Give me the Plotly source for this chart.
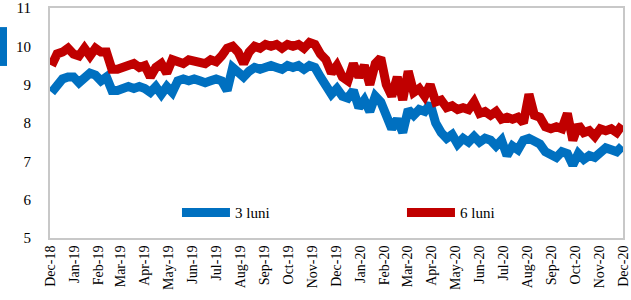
import pandas as pd
import plotly.graph_objects as go

# Weekly observations (Mondays), Dec 2018 - Nov 2020
week_start = "2018-12-03"
n_weeks = 105
dates = pd.date_range(week_start, periods=n_weeks, freq="7D")

series_names = ["3 luni", "6 luni"]

luni3 = [
    8.80, 9.00, 9.15, 9.20, 9.20, 9.05, 9.15, 9.30, 9.25, 9.10,
    9.20, 8.85, 8.85, 8.90, 8.95, 8.90, 8.95, 8.90, 8.80, 8.95,
    8.75, 8.95, 8.80, 9.10, 9.15, 9.10, 9.15, 9.10, 9.05, 9.10,
    9.15, 9.10, 8.85, 9.45, 9.35, 9.20, 9.35, 9.45, 9.40, 9.45,
    9.50, 9.45, 9.40, 9.50, 9.45, 9.50, 9.40, 9.50, 9.45, 9.20,
    8.95, 8.75, 8.90, 8.70, 8.65, 8.85, 8.40, 8.60, 8.30, 8.70,
    8.55, 8.20, 7.85, 8.10, 7.75, 8.35, 8.20, 8.35, 8.30, 8.50,
    8.00, 7.75, 7.60, 7.70, 7.45, 7.60, 7.50, 7.65, 7.50, 7.60,
    7.55, 7.40, 7.55, 7.15, 7.40, 7.30, 7.55, 7.60, 7.50, 7.45,
    7.25, 7.20, 7.10, 7.25, 7.20, 6.90, 7.20, 7.05, 7.15, 7.10,
    7.20, 7.35, 7.30, 7.25, 7.40,
]

luni6 = [
    9.50, 9.80, 9.85, 9.95, 9.80, 9.75, 9.95, 9.75, 9.95, 9.85,
    9.85, 9.40, 9.40, 9.45, 9.50, 9.55, 9.45, 9.50, 9.20, 9.45,
    9.55, 9.30, 9.65, 9.60, 9.55, 9.65, 9.60, 9.60, 9.55, 9.65,
    9.60, 9.75, 9.95, 10.00, 9.85, 9.55, 9.85, 10.00, 9.95, 10.05,
    10.00, 10.05, 9.95, 10.05, 10.00, 10.05, 9.95, 10.10, 10.05, 9.80,
    9.65, 9.30, 9.50, 9.20, 9.10, 9.55, 9.20, 9.50, 9.00, 9.55,
    9.70, 9.00, 8.70, 9.20, 8.60, 9.35, 8.80, 8.90, 8.70, 9.00,
    8.55, 8.60, 8.40, 8.45, 8.35, 8.40, 8.35, 8.55, 8.25, 8.30,
    8.20, 8.30, 8.10, 8.15, 8.10, 8.15, 8.00, 8.75, 8.20, 8.15,
    7.90, 7.85, 7.90, 7.85, 8.25, 7.55, 7.95, 7.75, 7.80, 7.65,
    7.85, 7.80, 7.85, 7.75, 7.95,
]

colors = ["#0070C0", "#C00000"]
y_ticks = [5, 6, 7, 8, 9, 10, 11]

serif = "Georgia, 'Liberation Serif', 'DejaVu Serif', serif"

fig = go.Figure()
for name, vals, col in zip(series_names, [luni3, luni6], colors):
    fig.add_trace(go.Scatter(
        x=dates, y=vals, mode="lines", name=name,
        line=dict(color=col, width=9),
    ))

fig.update_layout(
    width=631, height=300,
    margin=dict(l=50, r=8, t=8, b=62, autoexpand=False),
    paper_bgcolor="white", plot_bgcolor="white",
    font=dict(family=serif, size=15, color="#000000"),
    showlegend=True,
    legend=dict(
        orientation="h", x=0.2216, xanchor="left", y=0.11, yanchor="middle",
        bgcolor="rgba(0,0,0,0)", font=dict(family=serif, size=15),
        entrywidth=162, entrywidthmode="pixels", itemwidth=48,
    ),
    shapes=[dict(
        type="rect", xref="paper", yref="paper",
        x0=-0.0873, x1=-0.075, y0=0.748, y1=0.917,
        fillcolor="#0070C0", line=dict(width=0), layer="above",
    )],
)

fig.update_xaxes(
    range=["2018-12-01", "2020-12-01"],
    tickformat="%b-%y", dtick="M1", tick0="2018-12-01",
    tickangle=-90, tickfont=dict(family=serif, size=14),
    showgrid=False, zeroline=False, automargin=False,
    showline=True, linecolor="#C8C8C8", linewidth=2, mirror=True,
    ticks="",
)
fig.update_yaxes(
    range=[5, 11], tickvals=y_ticks,
    tickfont=dict(family=serif, size=15),
    showgrid=False, zeroline=False, automargin=False,
    showline=True, linecolor="#C8C8C8", linewidth=2, mirror=True,
    ticks="", ticklabelstandoff=14,
)

fig.write_html(
    "out.html",
    config={"displayModeBar": False},
    post_script="document.body.style.margin='0';",
)
